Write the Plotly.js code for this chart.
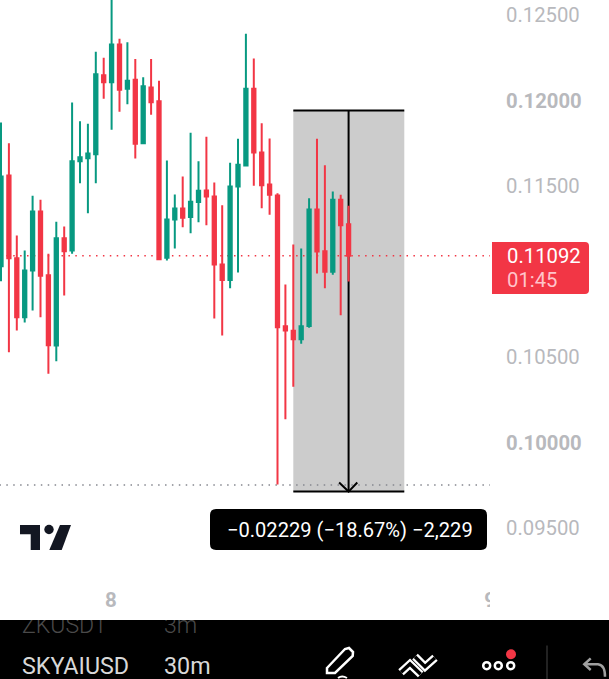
<!DOCTYPE html>
<html><head><meta charset="utf-8">
<script src="https://cdn.plot.ly/plotly-3.0.1.min.js"></script>
<style>html,body{margin:0;padding:0;background:#fff;overflow:hidden}#wrap{position:relative;width:609px;height:679px}#chart{width:609px;height:679px}#mask{position:absolute;left:0;top:610px;width:300px;height:10px;background:#fff}</style>
</head><body><div id="wrap"><div id="chart"></div><div id="mask"></div></div>
<script>
const openPrices=[0.11031,0.11561,0.11078,0.10733,0.11006,0.11351,0.10978,0.10567,0.11195,0.11123,0.11645,0.11663,0.11686,0.12148,0.12107,0.12327,0.12068,0.12121,0.11750,0.12076,0.11996,0.11080,0.11304,0.11368,0.11318,0.11407,0.11474,0.11439,0.11041,0.10951,0.11497,0.11620,0.12068,0.11696,0.11509,0.11444,0.10680,0.10653,0.10604,0.10682,0.11363,0.11119,0.10998,0.11419,0.11277];
const highPrices=[0.11871,0.11750,0.11211,0.11123,0.11443,0.11419,0.11104,0.11291,0.11263,0.11988,0.11879,0.11864,0.12285,0.12250,0.12614,0.12361,0.12341,0.12242,0.12136,0.12242,0.12115,0.11649,0.11450,0.11556,0.11811,0.11645,0.11788,0.11520,0.11388,0.11636,0.11776,0.12390,0.12246,0.11867,0.11778,0.11458,0.10924,0.11158,0.11134,0.11429,0.11776,0.11622,0.11468,0.11449,0.11384];
const lowPrices=[0.10943,0.10528,0.10655,0.10702,0.10772,0.10733,0.10402,0.10475,0.10860,0.11104,0.11516,0.11341,0.11516,0.12010,0.11829,0.11934,0.11978,0.11661,0.11750,0.11916,0.11070,0.11064,0.11134,0.11259,0.11224,0.11288,0.11271,0.10725,0.10626,0.10902,0.10994,0.11620,0.11501,0.11370,0.11332,0.09754,0.10136,0.10326,0.10577,0.10671,0.10988,0.10902,0.10981,0.10744,0.10942];
const closePrices=[0.11556,0.11078,0.10733,0.11006,0.11351,0.10975,0.10569,0.11195,0.11119,0.11645,0.11668,0.11690,0.12154,0.12107,0.12327,0.12063,0.12115,0.11747,0.12084,0.11990,0.11072,0.11304,0.11368,0.11314,0.11408,0.11472,0.11439,0.11041,0.10951,0.11497,0.11624,0.12068,0.11696,0.11505,0.11449,0.10674,0.10655,0.10604,0.10680,0.11363,0.11117,0.10998,0.11419,0.11271,0.11092];
const candleIndex=openPrices.map((_,i)=>i);
const priceTicks=[0.125,0.12,0.115,0.105,0.10,0.095];
const priceLabels=['0.12500','<b>0.12000</b>','0.11500','0.10500','<b>0.10000</b>','0.09500'];
const timeTicks=[13.9,61.9];
const timeLabels=['<b>8</b>','<b>9</b>'];
const lastPrice=0.11092, lowLine=0.09751, measureTop=0.11942, measureBottom=0.09713;
const measureLeft=37, measureRight=51.05, measureMid=44;
const GREEN='#089981',RED='#f23645',FONT='Roboto, sans-serif',W=609,H=679;
const fx=x=>x/W, fy=y=>1-y/H;
// converts a pixel-authored decoration path to paper fractions
function P(d){return d.replace(/(-?[\d.]+) (-?[\d.]+)/g,(m,a,b)=>fx(+a).toFixed(5)+' '+fy(+b).toFixed(5));}
const paperPath=(d,fill,line,lw)=>({type:'path',xref:'paper',yref:'paper',layer:'above',path:P(d),fillcolor:fill||'rgba(0,0,0,0)',line:{color:line||'rgba(0,0,0,0)',width:lw||0}});
const paperCircle=(cx,cy,r,fill,line,lw)=>({type:'circle',xref:'paper',yref:'paper',layer:'above',x0:fx(cx-r),x1:fx(cx+r),y0:fy(cy+r),y1:fy(cy-r),fillcolor:fill,line:{color:line||'rgba(0,0,0,0)',width:lw||0}});
const paperRect=(x0,y0,x1,y1,fill)=>({type:'rect',xref:'paper',yref:'paper',layer:'above',x0:fx(x0),x1:fx(x1),y0:fy(y1),y1:fy(y0),fillcolor:fill,line:{width:0}});
const dataLine=(x0,y0,x1,y1,color,w,dash)=>({type:'line',layer:'below',xref:'x',yref:'y',x0,x1,y0,y1,line:{color,width:w,dash:dash||'solid'}});
const shapes=[
 {type:'rect',layer:'below',xref:'x',yref:'y',x0:measureLeft,x1:measureRight,y0:measureBottom,y1:measureTop,fillcolor:'#cccccc',line:{width:0}},
 dataLine(-0.2,lastPrice,62,lastPrice,RED,1.5,'1.5px,5.4px'),
 dataLine(-0.2,lowLine,62,lowLine,'#85878f',1.5,'1.5px,5.4px'),
 dataLine(measureLeft,measureTop,measureRight,measureTop,'#000',2),
 dataLine(measureLeft,measureBottom,measureRight,measureBottom,'#000',2),
 dataLine(measureMid,measureTop,measureMid,measureBottom,'#000',2),
 {type:'path',layer:'below',xref:'x',yref:'y',path:`M ${measureMid-1.2},${measureBottom+0.00053} L ${measureMid},${measureBottom} L ${measureMid+1.1},${measureBottom+0.00053}`,line:{color:'#000',width:2}},
 // price tag
 paperPath('M 492 242 L 585 242 Q 589 242 589 246 L 589 290 Q 589 294 585 294 L 492 294 Z',RED),
 // tooltip
 paperPath('M 216 509 L 481 509 Q 487 509 487 515 L 487 544 Q 487 550 481 550 L 216 550 Q 210 550 210 544 L 210 515 Q 210 509 216 509 Z','#000'),
 // logo
 paperPath('M 20 525 L 40 525 L 40 550 L 30.7 550 L 30.7 534.3 L 20 534.3 Z','#131722'),
 paperCircle(49,529.5,4.7,'#131722'),
 paperPath('M 60 525 L 71 525 L 61.7 550 L 49.3 550 Z','#131722'),
 // hides the right half of the last time label
 paperRect(490,585,515,612,'#fff'),
 // toolbar
 paperRect(0,620,609,679,'#000'),
 paperPath('M 327 668 L 345 649 L 349 648 L 353 652 L 352.7 656 L 335 673 L 327 673 Z','rgba(0,0,0,0)','#fff',2.5),
 paperPath('M 338 678 Q 342 675 347 678','rgba(0,0,0,0)','#fff',2),
 paperPath('M 401 672.3 L 410 664 L 420.7 674.3','rgba(0,0,0,0)','#fff',8),
 paperPath('M 401 672.3 L 410 664 L 420.7 674.3','rgba(0,0,0,0)','#000',3.5),
 paperPath('M 415 656.7 L 425 666.7 L 435 657.7','rgba(0,0,0,0)','#fff',8),
 paperPath('M 415 656.7 L 425 666.7 L 435 657.7','rgba(0,0,0,0)','#000',3.5),
 paperCircle(486.7,665.7,3.5,'#000','#fff',2.5),
 paperCircle(498.3,665.7,3.5,'#000','#fff',2.5),
 paperCircle(510.7,665.7,3.5,'#000','#fff',2.5),
 paperCircle(511,654.3,5,RED),
 paperRect(546.4,645.5,547.6,679,'#3a3a3a'),
 paperPath('M 590.7 658.3 L 584.3 664.3 L 590.7 670','rgba(0,0,0,0)','#a0a0a0',2.5),
 paperPath('M 584.3 664.3 L 598 664.3 Q 605 665 605 676.7','rgba(0,0,0,0)','#a0a0a0',2.5)
];
const note=(text,x,y,size,color,anchor,weight)=>({text,xref:'paper',yref:'paper',x:fx(x),y:fy(y),xanchor:anchor||'left',yanchor:'middle',showarrow:false,borderpad:0,font:{family:FONT,size,color,weight:weight||400}});
const annotations=[
 note('0.11092',505.5,256,20.3,'#ffffff'),
 note('01:45',505.5,280,20.3,'#ffc4ca'),
 note('−0.02229 (−18.67%) −2,229',349.5,530,20.1,'#ffffff','center'),
 note('ZKUSDT',21,625,23,'#4a4a4a','left',300),
 note('3m',163,625,23,'#4a4a4a','left',300),
 note('SKYAIUSD',20.5,665.5,23.3,'#d8d8d8'),
 note('30m',163,665.5,23.3,'#d8d8d8')
];
Plotly.newPlot('chart',[{
 type:'candlestick',x:candleIndex,open:openPrices,high:highPrices,low:lowPrices,close:closePrices,
 increasing:{line:{color:GREEN,width:2},fillcolor:GREEN},
 decreasing:{line:{color:RED,width:2},fillcolor:RED},
 whiskerwidth:0,hoverinfo:'skip',showlegend:false
}],{
 width:W,height:H,margin:{l:0,r:0,t:0,b:0},paper_bgcolor:'#fff',plot_bgcolor:'rgba(0,0,0,0)',boxgap:0.4,showlegend:false,
 xaxis:{domain:[0,490/W],range:[-0.127,61.9],type:'linear',rangeslider:{visible:false},showgrid:false,zeroline:false,showline:false,ticks:'',tickmode:'array',tickvals:timeTicks,ticktext:timeLabels,tickfont:{family:FONT,size:20.5,color:'#b8b9bd'},ticklabelstandoff:5,anchor:'y',automargin:false},
 yaxis:{domain:[(H-580)/H,1],range:[0.12-479.5/17100,0.12+100.5/17100],side:'right',anchor:'x',showgrid:false,zeroline:false,showline:false,ticks:'',tickmode:'array',tickvals:priceTicks,ticktext:priceLabels,tickfont:{family:FONT,size:20.3,color:'#b8b9bd'},ticklabelstandoff:15,automargin:false},
 shapes,annotations
},{staticPlot:true,displayModeBar:false});
</script></body></html>
